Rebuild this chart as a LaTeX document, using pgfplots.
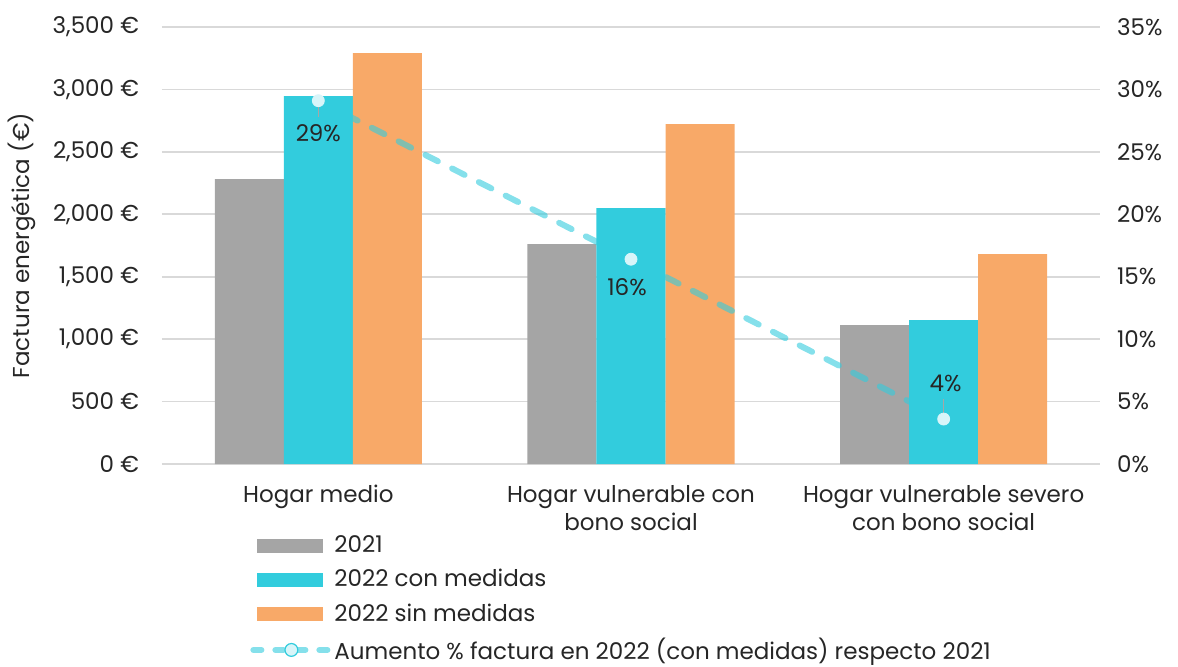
\documentclass[border=0pt]{standalone}
\usepackage{fontspec}
\setmainfont{Poppins}
\usepackage{pgfplots}
\pgfplotsset{compat=1.18}
\definecolor{cgray}{HTML}{A5A5A5}
\definecolor{ccyan}{HTML}{32CCDD}
\definecolor{corange}{HTML}{F8A968}
\definecolor{cline}{HTML}{33CCDD}
\definecolor{cmark}{HTML}{D8F5F9}
\definecolor{cgrid}{HTML}{D9D9D9}
\definecolor{ctext}{HTML}{262626}
\begin{document}
\begin{tikzpicture}[font=\fontsize{11.5}{14}\selectfont, text=ctext]
\useasboundingbox (-81pt,-101pt) rectangle (508pt,232pt);
\begin{axis}[
  at={(0,0)}, anchor=south west,
  scale only axis, width=469pt, height=218.5pt,
  xmin=-0.5, xmax=2.5, ymin=0, ymax=3500,
  ybar=0pt, bar width=34.5pt,
  xtick={0,1,2},
  xticklabels={Hogar medio, {Hogar vulnerable con\\bono social}, {Hogar vulnerable severo\\con bono social}},
  xticklabel style={align=center, yshift=-7pt, font=\fontsize{11.5}{14}\selectfont},
  ytick={0,500,...,3500},
  /pgf/number format/assume math mode=true,
  /pgf/number format/1000 sep={,},
  yticklabel={\pgfmathprintnumber{\tick}~€},
  yticklabel style={xshift=-8pt},
  ymajorgrids, grid style={cgrid, line width=0.9pt},
  axis line style={draw=none},
  major tick length=0pt,
  ylabel={Factura energética (€)},
  ylabel style={at={(axis description cs:-0.149,0.5)}, anchor=center},
  legend style={at={(0.0874,-0.15)}, anchor=north west, draw=none, fill=none,
    legend cell align=left, row sep=4.8pt, font=\fontsize{11.5}{14}\selectfont,
    nodes={inner xsep=2pt, inner ysep=1pt}},
  legend image code/.code={\fill[#1] (0pt,-3.5pt) rectangle (33pt,3.5pt);},
]
\addplot[fill=cgray, draw=none] coordinates {(0,2282) (1,1761) (2,1113)};
\addlegendentry{2021}
\addplot[fill=ccyan, draw=none] coordinates {(0,2946) (1,2050) (2,1153)};
\addlegendentry{2022 con medidas}
\addplot[fill=corange, draw=none] coordinates {(0,3291) (1,2722) (2,1681)};
\addlegendentry{2022 sin medidas}
\addlegendimage{legend image code/.code={
   \draw[cline, opacity=0.6, line width=3pt, line cap=round, dash pattern=on 4pt off 7pt] (-2pt,0pt) -- (35pt,0pt);
   \draw[ccyan, fill=cmark, line width=0.6pt] (17pt,0pt) circle (3.2pt);}}
\addlegendentry{Aumento \% factura en 2022 (con medidas) respecto 2021}
\end{axis}
\begin{axis}[
  at={(0,0)}, anchor=south west,
  scale only axis, width=469pt, height=218.5pt,
  xmin=-0.5, xmax=2.5, ymin=0, ymax=35,
  axis y line*=right, axis x line=none,
  axis line style={draw=none},
  major tick length=0pt,
  ytick={0,5,...,35},
  /pgf/number format/assume math mode=true,
  yticklabel={\pgfmathprintnumber{\tick}\%},
  yticklabel style={xshift=5pt},
  clip=false,
]
\addplot[cline, opacity=0.6, line width=3pt, line cap=round, dash pattern=on 7pt off 8pt]
  coordinates {(0,29.1) (1,16.4) (2,3.6)};
\addplot[only marks, mark=*, mark size=3pt, mark options={fill=cmark, draw=cmark}]
  coordinates {(0,29.1) (1,16.4) (2,3.6)};
\draw[gray!70, line width=0.6pt] ([yshift=-3pt]axis cs:0,29.1) -- ([yshift=-8pt]axis cs:0,29.1);
\draw[gray!70, line width=0.6pt] ([yshift=3pt]axis cs:2,3.6) -- ([yshift=10pt]axis cs:2,3.6);
\node at (axis cs:0,29.1) [yshift=-16pt] {29\%};
\node at (axis cs:1,16.4) [yshift=-14pt, xshift=-2pt] {16\%};
\node at (axis cs:2,3.6) [yshift=18pt, xshift=1pt] {4\%};
\end{axis}
\end{tikzpicture}
\end{document}
